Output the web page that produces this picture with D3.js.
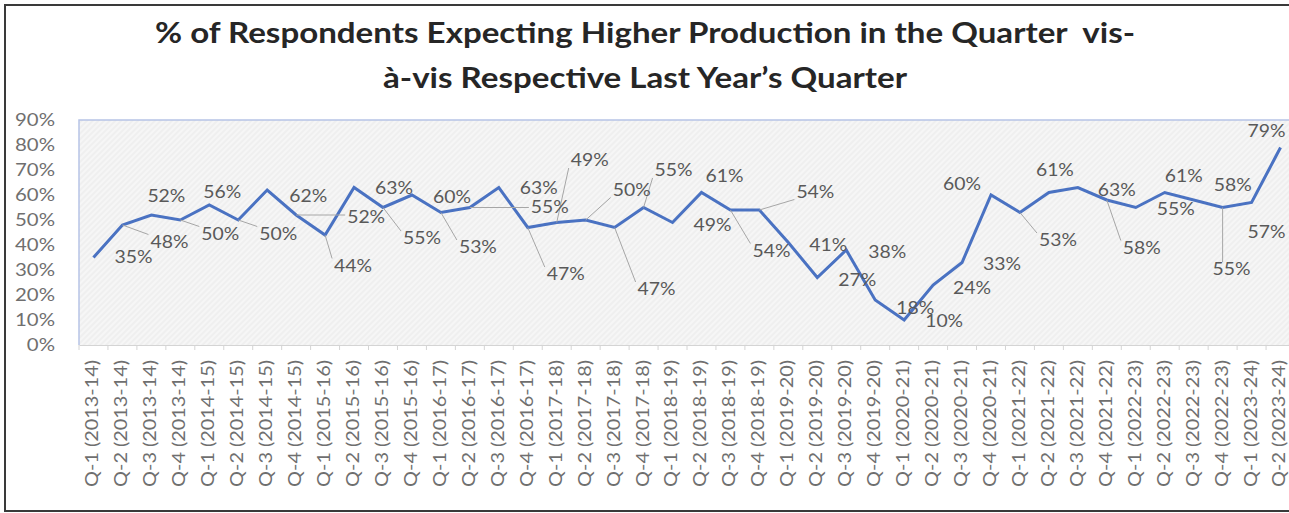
<!DOCTYPE html>
<html><head><meta charset="utf-8">
<script src="https://cdn.jsdelivr.net/npm/d3@7/dist/d3.min.js"></script>
<style>
html,body{margin:0;padding:0;background:#fff;overflow:hidden}
svg{display:block}
text{font-family:Lato,"Open Sans",sans-serif}
</style></head><body>
<svg id="chart" width="1289" height="513"></svg>
<script>
// ---------- data ----------
const categories = [
 "Q-1 (2013-14)","Q-2 (2013-14)","Q-3 (2013-14)","Q-4 (2013-14)",
 "Q-1 (2014-15)","Q-2 (2014-15)","Q-3 (2014-15)","Q-4 (2014-15)",
 "Q-1 (2015-16)","Q-2 (2015-16)","Q-3 (2015-16)","Q-4 (2015-16)",
 "Q-1 (2016-17)","Q-2 (2016-17)","Q-3 (2016-17)","Q-4 (2016-17)",
 "Q-1 (2017-18)","Q-2 (2017-18)","Q-3 (2017-18)","Q-4 (2017-18)",
 "Q-1 (2018-19)","Q-2 (2018-19)","Q-3 (2018-19)","Q-4 (2018-19)",
 "Q-1 (2019-20)","Q-2 (2019-20)","Q-3 (2019-20)","Q-4 (2019-20)",
 "Q-1 (2020-21)","Q-2 (2020-21)","Q-3 (2020-21)","Q-4 (2020-21)",
 "Q-1 (2021-22)","Q-2 (2021-22)","Q-3 (2021-22)","Q-4 (2021-22)",
 "Q-1 (2022-23)","Q-2 (2022-23)","Q-3 (2022-23)","Q-4 (2022-23)",
 "Q-1 (2023-24)","Q-2 (2023-24)"
];
const values = [
 35,48,52,50, 56,50,62,52, 44,63,55,60, 53,55,63,47,
 49,50,47,55, 49,61,54,54, 41,27,38,18, 10,24,33,60,
 53,61,63,58, 55,61,58,55, 57,79
];
const yTickValues = [0,10,20,30,40,50,60,70,80,90];
const titleLines = [
 "% of Respondents Expecting Higher Production in the Quarter  vis-",
 "à-vis Respective Last Year’s Quarter"
];

// ---------- label layout (pixel offsets from each point, leader flag) ----------
const labelLayout = [
 [40,0,0],[47,17,1],[15,-19,0],[40,14,1],[13,-13,0],[40,14,1],[41,6,0],[70,2,1],
 [28,31,1],[40,1,0],[39,31,1],[40,2,0],[37,35,1],[80,0,1],[40,1,0],[38,47,1],
 [33,-62,1],[46,-30,1],[42,62,1],[30,-37,1],[40,3,0],[23,-16,0],[41,41,1],[56,-18,1],
 [40,3,0],[40,3,0],[41,2,0],[40,8,0],[40,1,0],[39,3,0],[40,2,0],[-29,-11,0],
 [38,28,1],[6,-22,0],[39,3,0],[35,48,1],[40,2,0],[19,-16,0],[39,-15,0],[9,62,1],
 [15,30,0],[-14,-16,0]
];

const svg = d3.select("#chart");
const W = 1289, H = 513;
const plot = {left:79, right:1295, top:120, bottom:345};

// frame
svg.append("rect").attr("x",5).attr("y",5).attr("width",1300).attr("height",506)
  .attr("fill","#fff").attr("stroke","#3a3a3a").attr("stroke-width",2);

// pattern
const defs = svg.append("defs");
const pat = defs.append("pattern").attr("id","hatch").attr("width",4).attr("height",4)
  .attr("patternUnits","userSpaceOnUse").attr("patternTransform","rotate(45)");
pat.append("rect").attr("width",4).attr("height",4).attr("fill","#efefef");
pat.append("line").attr("x1",1).attr("y1",0).attr("x2",1).attr("y2",4)
  .attr("stroke","#fbfbfb").attr("stroke-width",1.3);

const x = d3.scaleBand().domain(categories).range([plot.left, plot.right]);
const y = d3.scaleLinear().domain([0,90]).range([plot.bottom, plot.top]);
const cx = c => x(c) + x.bandwidth()/2;

// plot area
svg.append("rect").attr("x",plot.left).attr("y",plot.top)
  .attr("width",plot.right-plot.left).attr("height",plot.bottom-plot.top)
  .attr("fill","url(#hatch)");
svg.append("path")
  .attr("d",`M${plot.left},${plot.bottom}V${plot.top}H${plot.right}`)
  .attr("fill","none").attr("stroke","#b7c3e6").attr("stroke-width",1.5);

// measuring helper
function measure(str, size, weight){
  const t = svg.append("text").attr("font-size",size).attr("font-weight",weight||400)
    .style("white-space","pre").text(str);
  const w = t.node().getComputedTextLength(); t.remove(); return w;
}

// title
const titleSize = 29;
const tScale = 524 / measure(titleLines[1], titleSize, 700);
svg.append("g").selectAll("text").data(titleLines).join("text")
  .attr("transform",(d,i)=>`translate(645,${[43,88][i]}) scale(${tScale},1)`)
  .attr("text-anchor","middle").attr("font-size",titleSize).attr("font-weight",700)
  .attr("fill","#262626").style("white-space","pre").text(d=>d);

// y axis
const fs = 17;
const ySx = 40 / measure("90%", fs);
const yAxis = svg.append("g").attr("transform",`translate(${plot.left},0)`)
  .call(d3.axisLeft(y).tickValues(yTickValues).tickFormat(d=>d+"%").tickSize(0).tickPadding(24));
yAxis.select(".domain").remove();
yAxis.selectAll("text").each(function(){
  const t = d3.select(this); const xx = +t.attr("x");
  t.attr("x",0).attr("transform",`translate(${xx},0) scale(${ySx},1)`);
}).attr("font-family",null).attr("font-size",fs).attr("fill","#6f6f6f");

// x axis
const xAxis = svg.append("g").attr("transform",`translate(0,${plot.bottom})`)
  .call(d3.axisBottom(x).tickSize(0).tickFormat(""));
xAxis.select(".domain").attr("stroke","#d4d4d4").attr("stroke-width",1.2);
const bounds = categories.map(c=>x(c)).concat([plot.right]);
svg.append("g").selectAll("line").data(bounds).join("line")
  .attr("x1",d=>d).attr("x2",d=>d).attr("y1",plot.bottom).attr("y2",plot.bottom+5)
  .attr("stroke","#d4d4d4").attr("stroke-width",1);
const xSx = 127 / measure(categories[0], fs);
svg.append("g").selectAll("text").data(categories).join("text")
  .attr("transform",d=>`translate(${cx(d)-1},360) rotate(-90) scale(${xSx},1)`)
  .attr("text-anchor","end").attr("dy","0.35em")
  .attr("font-size",fs).attr("fill","#6f6f6f").text(d=>d);

// line
const line = d3.line().x((d,i)=>cx(categories[i])).y(d=>y(d));
svg.append("path").datum(values).attr("d",line)
  .attr("fill","none").attr("stroke","#4a72c2").attr("stroke-width",3)
  .attr("stroke-linejoin","miter");

// data labels + leader lines
const lSx = 38 / measure("55%", fs);
const leaderG = svg.append("g");
const labG = svg.append("g");
values.forEach((v,i)=>{
  const px = cx(categories[i]), py = y(v);
  const [dx,dy,lead] = labelLayout[i];
  const lx = px+dx, ly = py+dy;
  const str = v + "%";
  const w = measure(str, fs) * lSx, h = 13;
  if (lead){
    const bx = Math.max(lx-w/2-2, Math.min(px, lx+w/2+2));
    const by = Math.max(ly-h/2-1, Math.min(py, ly+h/2+1));
    leaderG.append("line").attr("x1",px).attr("y1",py).attr("x2",bx).attr("y2",by)
      .attr("stroke","#a6a6a6").attr("stroke-width",1);
  }
  labG.append("text").attr("transform",`translate(${lx},${ly}) scale(${lSx},1)`)
    .attr("text-anchor","middle").attr("dy","0.35em")
    .attr("font-size",fs).attr("fill","#595959").text(str);
});
</script>
</body></html>
